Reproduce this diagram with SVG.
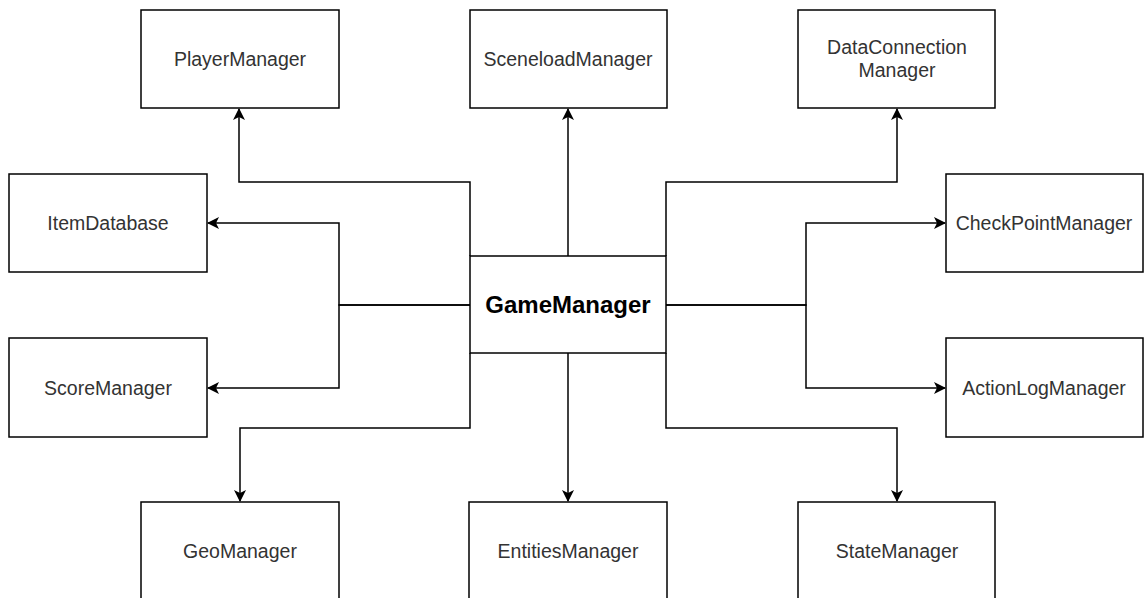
<svg xmlns="http://www.w3.org/2000/svg" width="1144" height="598" viewBox="0 0 1144 598">
<style>
.box{fill:#fff;stroke:#000;stroke-width:1.5}
.lbl{font-family:"Liberation Sans",Arial,sans-serif;font-size:19.5px;fill:#333;text-anchor:middle}
.main{font-family:"Liberation Sans",Arial,sans-serif;font-size:24px;font-weight:bold;fill:#000;text-anchor:middle}
.edge{fill:none;stroke:#000;stroke-width:1.5;marker-end:url(#arr)}
</style>
<defs>
<marker id="arr" markerUnits="userSpaceOnUse" markerWidth="12" markerHeight="12" viewBox="0 0 12 12" refX="11" refY="6" orient="auto">
<path d="M0,0 L12,6 L0,12 L3,6 z" fill="#000"/>
</marker>
</defs>
<rect width="1144" height="598" fill="#fff"/>
<g id="connectors">
<path class="edge" d="M470,256 L470,182 L239,182 L239,109"/>
<path class="edge" d="M568,256 L568,109"/>
<path class="edge" d="M666,256 L666,182 L897,182 L897,109"/>
<path class="edge" d="M470,305 L339,305 L339,223 L208,223"/>
<path class="edge" d="M470,305 L339,305 L339,388 L208,388"/>
<path class="edge" d="M666,305 L806,305 L806,223 L945,223"/>
<path class="edge" d="M666,305 L806,305 L806,388 L945,388"/>
<path class="edge" d="M470,353 L470,428 L240,428 L240,501"/>
<path class="edge" d="M568,353 L568,501"/>
<path class="edge" d="M666,353 L666,428 L897,428 L897,501"/>
</g>
<g id="PlayerManager"><rect class="box" x="141" y="10" width="198" height="98"/><text class="lbl" x="240" y="66">PlayerManager</text></g>
<g id="SceneloadManager"><rect class="box" x="470" y="10" width="197" height="98"/><text class="lbl" x="568" y="66">SceneloadManager</text></g>
<g id="DataConnectionManager"><rect class="box" x="798" y="10" width="197" height="98"/><text class="lbl" x="897" y="54">DataConnection</text><text class="lbl" x="897" y="77">Manager</text></g>
<g id="ItemDatabase"><rect class="box" x="9" y="174" width="198" height="98"/><text class="lbl" x="108" y="230">ItemDatabase</text></g>
<g id="ScoreManager"><rect class="box" x="9" y="338" width="198" height="99"/><text class="lbl" x="108" y="395">ScoreManager</text></g>
<g id="GameManager"><rect class="box" x="470" y="256" width="196" height="97"/><text class="main" x="568" y="313">GameManager</text></g>
<g id="CheckPointManager"><rect class="box" x="946" y="174" width="197" height="98"/><text class="lbl" x="1044" y="230">CheckPointManager</text></g>
<g id="ActionLogManager"><rect class="box" x="946" y="338" width="197" height="99"/><text class="lbl" x="1044" y="395">ActionLogManager</text></g>
<g id="GeoManager"><rect class="box" x="141" y="502" width="198" height="98"/><text class="lbl" x="240" y="558">GeoManager</text></g>
<g id="EntitiesManager"><rect class="box" x="469" y="502" width="198" height="98"/><text class="lbl" x="568" y="558">EntitiesManager</text></g>
<g id="StateManager"><rect class="box" x="798" y="502" width="197" height="98"/><text class="lbl" x="897" y="558">StateManager</text></g>
</svg>
